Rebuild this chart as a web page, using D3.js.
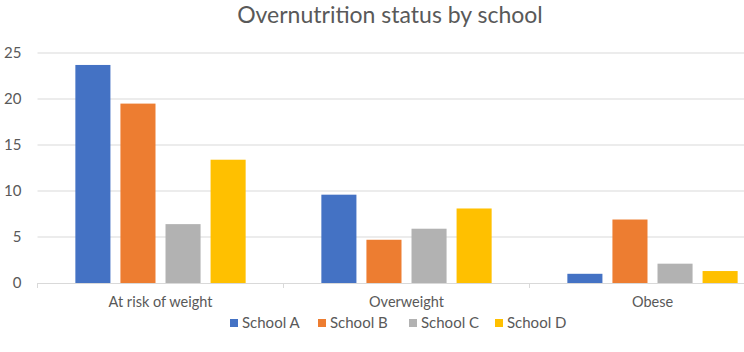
<!DOCTYPE html>
<html>
<head>
<meta charset="utf-8">
<script src="https://cdn.jsdelivr.net/npm/d3@7"></script>
<style>
  body { margin: 0; background: #fff; }
  text { font-family: Lato, "Open Sans", sans-serif; fill: #595959; }
</style>
</head>
<body>
<div id="container"></div>
<script>
// DATA
const categories = ["At risk of weight", "Overweight", "Obese"];
const schools = ["School A", "School B", "School C", "School D"];
const schoolA = [23.7, 9.6, 1.0];
const schoolB = [19.5, 4.7, 6.9];
const schoolC = [6.4, 5.9, 2.1];
const schoolD = [13.4, 8.1, 1.3];
const yTicks = [0, 5, 10, 15, 20, 25];
const colors = ["#4472c4", "#ed7d31", "#b2b2b2", "#ffc000"];

const series = [schoolA, schoolB, schoolC, schoolD];
const rows = categories.map((c, i) => ({
  category: c,
  values: schools.map((s, j) => ({ school: s, value: series[j][i] }))
}));

const width = 744;
const height = 352;
// plot area runs past the right edge, like the cropped original
const plot = { left: 37.5, right: 775.5, top: 53, bottom: 283 };

const svg = d3.select("#container")
  .append("svg")
  .attr("width", width)
  .attr("height", height);

// SCALES
const xScale = d3.scaleBand()
  .domain(categories)
  .range([plot.left, plot.right]);

const xInner = d3.scaleBand()
  .domain(schools)
  .range([0, xScale.bandwidth()])
  .paddingInner(0.222)
  .paddingOuter(0.84);

const yScale = d3.scaleLinear()
  .domain([0, 25])
  .range([plot.bottom, plot.top]);

const colorScale = d3.scaleOrdinal().domain(schools).range(colors);

// gridlines
svg.append("g")
  .selectAll("line")
  .data(yTicks.filter(d => d > 0))
  .enter()
  .append("line")
  .attr("x1", plot.left)
  .attr("x2", plot.right)
  .attr("y1", d => yScale(d))
  .attr("y2", d => yScale(d))
  .attr("stroke", "#d9d9d9")
  .attr("stroke-width", 1);

// y axis labels
const yAxis = svg.append("g")
  .attr("transform", `translate(${plot.left - 16}, 0)`)
  .call(d3.axisLeft(yScale).tickValues(yTicks).tickSize(0).tickPadding(0));
yAxis.select(".domain").remove();
yAxis.selectAll("text")
  .style("font-size", "15px")
  .style("font-family", "Lato, sans-serif")
  .attr("fill", "#595959");

// bars
svg.append("g")
  .selectAll("g")
  .data(rows)
  .enter()
  .append("g")
  .attr("transform", d => `translate(${xScale(d.category)}, 0)`)
  .selectAll("rect")
  .data(d => d.values)
  .enter()
  .append("rect")
  .attr("x", d => xInner(d.school))
  .attr("y", d => yScale(d.value))
  .attr("width", xInner.bandwidth())
  .attr("height", d => yScale(0) - yScale(d.value))
  .attr("fill", d => colorScale(d.school));

// x axis
const xAxis = svg.append("g")
  .attr("transform", `translate(0, ${plot.bottom})`)
  .call(d3.axisBottom(xScale).tickSize(0).tickPadding(14));
xAxis.select(".domain").attr("stroke", "#d9d9d9");
xAxis.selectAll("text")
  .style("font-size", "14.5px")
  .style("font-family", "Lato, sans-serif")
  .attr("fill", "#595959");

// category boundary ticks
svg.append("g")
  .selectAll("line")
  .data(categories)
  .enter()
  .append("line")
  .attr("x1", d => xScale(d))
  .attr("x2", d => xScale(d))
  .attr("y1", plot.bottom)
  .attr("y2", plot.bottom + 5)
  .attr("stroke", "#d9d9d9");

// title
svg.append("text")
  .attr("x", 390)
  .attr("y", 23)
  .attr("text-anchor", "middle")
  .style("font-size", "23px")
  .text("Overnutrition status by school");

// legend
const legendX = [230, 318, 409, 495];
const legend = svg.append("g")
  .selectAll("g")
  .data(schools)
  .enter()
  .append("g")
  .attr("transform", (d, i) => `translate(${legendX[i]}, 319)`);

legend.append("rect")
  .attr("width", 8)
  .attr("height", 8)
  .attr("fill", d => colorScale(d));

legend.append("text")
  .attr("x", 12)
  .attr("y", 9)
  .style("font-size", "15px")
  .text(d => d);
</script>
</body>
</html>
